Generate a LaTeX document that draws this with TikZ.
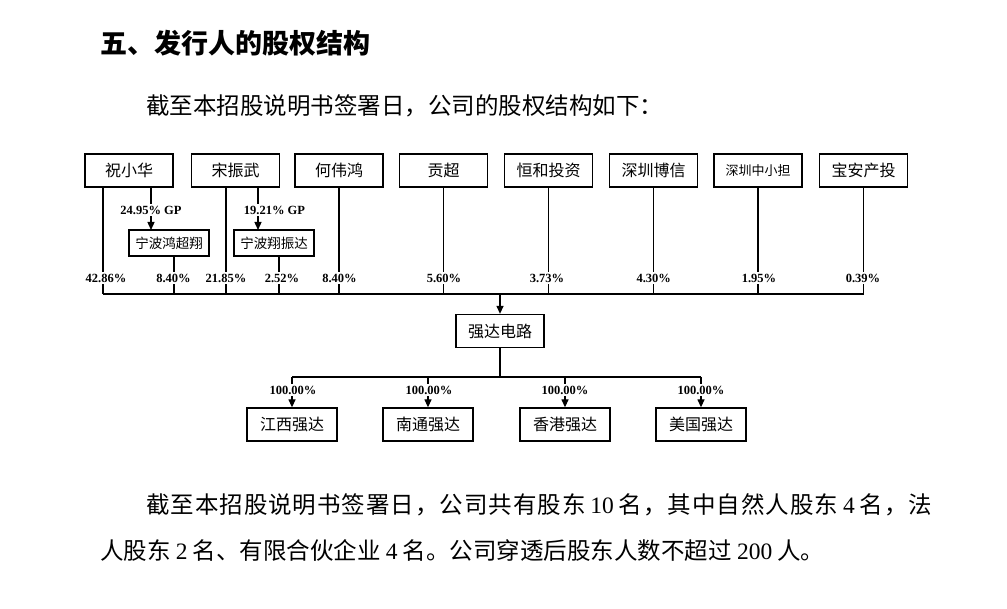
\documentclass[tikz,border=0pt]{standalone}
\usepackage{fontspec}
\setmainfont{Liberation Serif}
\newfontfamily\cjk{Noto Sans CJK SC}
\usetikzlibrary{arrows.meta}
\newcommand\nm[1]{\hspace{0.22em}{\rmfamily #1}\hspace{0.22em}}
\begin{document}
\begin{tikzpicture}[x=1pt,y=-1pt,
  box/.style={draw,line width=1.3pt,minimum width=88pt,minimum height=33pt,inner sep=0pt,font=\cjk\fontsize{16}{16}\selectfont},
  cbox/.style={box,minimum width=90pt},
  sbox/.style={draw,line width=1.2pt,minimum width=80pt,minimum height=26pt,inner sep=0pt,font=\cjk\fontsize{13.5}{14}\selectfont},
  pct/.style={font=\rmfamily\bfseries\fontsize{12.5}{12.5}\selectfont,fill=white,inner sep=1.5pt},
  ln/.style={line width=1.3pt},
  arr/.style={ln,-{Triangle[length=8pt,width=7pt]}},
  txt/.style={anchor=west,inner sep=0pt,font=\cjk\fontsize{23.5}{24}\selectfont}]
\useasboundingbox[fill=white] (0,0) rectangle (1007,609);

% texts
\node[anchor=west,inner sep=0pt,font=\cjk\bfseries\fontsize{27}{27}\selectfont] (title) at (100,43) {五、发行人的股权结构};
\node[txt] (intro) at (146,106) {截至本招股说明书签署日，公司的股权结构如下：};
\node[txt] (p1) at (146,505) {\hbox to 786pt{截\hfill 至\hfill 本\hfill 招\hfill 股\hfill 说\hfill 明\hfill 书\hfill 签\hfill 署\hfill 日\hfill ，\hfill 公\hfill 司\hfill 共\hfill 有\hfill 股\hfill 东\hskip 4pt plus 1fill{\rmfamily 10}\hskip 4pt plus 1fill 名\hfill ，\hfill 其\hfill 中\hfill 自\hfill 然\hfill 人\hfill 股\hfill 东\hskip 4pt plus 1fill{\rmfamily 4}\hskip 4pt plus 1fill 名\hfill ，\hfill 法}};
\node[txt] (p2) at (100,550) {人股东\nm{2}名、有限合伙企业\nm{4}名。公司穿透后股东人数不超过\nm{200}人。};

% shareholders
\node[box] (s1) at (129,170.5) {祝小华};
\node[box] (s2) at (235.5,170.5) {宋振武};
\node[box] (s3) at (339,170.5) {何伟鸿};
\node[box] (s4) at (443.5,170.5) {贡超};
\node[box] (s5) at (548.5,170.5) {恒和投资};
\node[box] (s6) at (653.5,170.5) {深圳博信};
\node[box,font=\cjk\fontsize{13}{13}\selectfont] (s7) at (758,170.5) {深圳中小担};
\node[box] (s8) at (863.5,170.5) {宝安产投};

\node[sbox] (n1) at (169,243) {宁波鸿超翔};
\node[sbox] (n2) at (274,243) {宁波翔振达};

\node[box] (q) at (500,331) {强达电路};

\node[cbox] (c1) at (292,424.5) {江西强达};
\node[cbox] (c2) at (428,424.5) {南通强达};
\node[cbox] (c3) at (565,424.5) {香港强达};
\node[cbox] (c4) at (701,424.5) {美国强达};

% bus coordinates
\coordinate (b1) at (103,294);
\coordinate (b2) at (174,294);
\coordinate (b3) at (226,294);
\coordinate (b4) at (279,294);
\coordinate (b5) at (339,294);
\coordinate (b6) at (443.5,294);
\coordinate (b7) at (548.5,294);
\coordinate (b8) at (653.5,294);
\coordinate (b9) at (758,294);
\coordinate (b10) at (863.5,294);
\coordinate (bq) at (500,294);
\coordinate (g1) at (151,230);
\coordinate (g2) at (258,230);
\coordinate (d) at (500,377);
\coordinate (dl) at (292,377);
\coordinate (dr) at (701,377);

% connectors
\draw[ln] (b1 |- s1.south) -- (b1);
\draw[arr] (g1 |- s1.south) -- (g1);
\draw[ln] (b2 |- n1.south) -- (b2);
\draw[ln] (b3 |- s2.south) -- (b3);
\draw[arr] (g2 |- s2.south) -- (g2);
\draw[ln] (b4 |- n2.south) -- (b4);
\draw[ln] (s3.south) -- (b5);
\draw[ln] (s4.south) -- (b6);
\draw[ln] (s5.south) -- (b7);
\draw[ln] (s6.south) -- (b8);
\draw[ln] (s7.south) -- (b9);
\draw[ln] (s8.south) -- (b10);
\draw[ln] (b1) -- (b10);
\draw[arr] (bq) -- (q.north);
\draw[ln] (q.south) -- (d);
\draw[ln] (dl) -- (dr);
\draw[arr] (c1.north |- d) -- (c1.north);
\draw[arr] (c2.north |- d) -- (c2.north);
\draw[arr] (c3.north |- d) -- (c3.north);
\draw[arr] (c4.north |- d) -- (c4.north);

% labels
\node[pct] (l1) at (106,278) {42.86\%};
\node[pct] (l2) at (173.5,278) {8.40\%};
\node[pct] (l3) at (226,278) {21.85\%};
\node[pct] (l4) at (282,278) {2.52\%};
\node[pct] (l5) at (339.5,278) {8.40\%};
\node[pct] (l6) at (444,278) {5.60\%};
\node[pct] (l7) at (547,278) {3.73\%};
\node[pct] (l8) at (653.7,278) {4.30\%};
\node[pct] (l9) at (759,278) {1.95\%};
\node[pct] (l10) at (863,278) {0.39\%};
\node[pct] (gp1) at (151,210) {24.95\% GP};
\node[pct] (gp2) at (274.5,210) {19.21\% GP};
\node[pct] (k1) at (293,390) {100.00\%};
\node[pct] (k2) at (429,390) {100.00\%};
\node[pct] (k3) at (565,390) {100.00\%};
\node[pct] (k4) at (701,390) {100.00\%};
\end{tikzpicture}
\end{document}
